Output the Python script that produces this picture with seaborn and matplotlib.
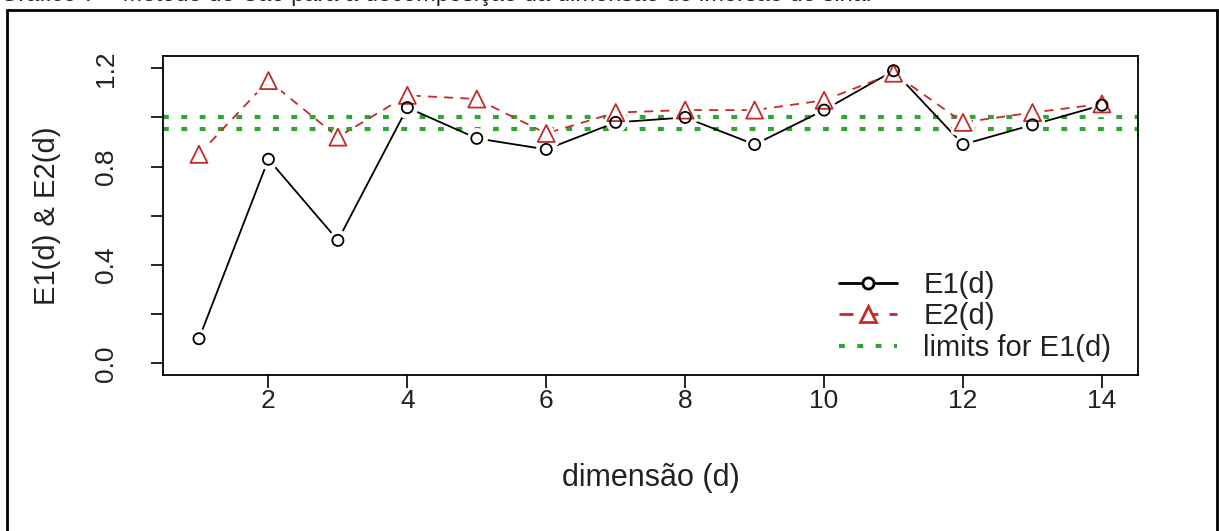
import numpy as np
import matplotlib
matplotlib.use("Agg")
import matplotlib.pyplot as plt
from matplotlib.patches import Rectangle
from matplotlib.lines import Line2D
import seaborn as sns

# dados do método de Cao
dims = [1, 2, 3, 4, 5, 6, 7, 8, 9, 10, 11, 12, 13, 14]
e1 = [0.10, 0.83, 0.50, 1.04, 0.915, 0.87, 0.98, 1.00, 0.89, 1.03, 1.19, 0.89, 0.97, 1.05]
e2 = [0.85, 1.15, 0.92, 1.09, 1.075, 0.935, 1.02, 1.03, 1.03, 1.07, 1.18, 0.98, 1.02, 1.055]
limites = [0.955, 1.0]

x_ticks = [2, 4, 6, 8, 10, 12, 14]
y_ticks = [0.0, 0.2, 0.4, 0.6, 0.8, 1.0, 1.2]
y_labels = ["0.0", "", "0.4", "", "0.8", "", "1.2"]

sns.set_style("ticks")
plt.rcParams["font.family"] = ["Liberation Sans", "DejaVu Sans"]
plt.rcParams["text.color"] = "#222222"

fig = plt.figure(figsize=(12.19, 5.31), dpi=100)
ax = fig.add_axes([0.1336, 0.2936, 0.8, 0.6])

verde = "#33a333"
vermelho = "#c42a2a"
estilo_tracejado = (0, (5, 4))

for lim in limites:
    ax.axhline(lim, color=verde, lw=3, linestyle=(0, (1.4, 3)), zorder=1)

# linhas (tipo "b" do R: segmentos com folga em volta dos pontos)
sns.lineplot(x=dims, y=e1, ax=ax, color="black", lw=1.3, zorder=2)
sns.lineplot(x=dims, y=e2, ax=ax, color=vermelho, lw=1.3, linestyle=estilo_tracejado, zorder=2)

# halo branco em volta dos marcadores
sns.scatterplot(x=dims, y=e1, ax=ax, marker="o", s=64, color="white",
                edgecolor="white", linewidth=7, zorder=3)
sns.scatterplot(x=dims, y=e2, ax=ax, marker="^", s=150, color="white",
                edgecolor="white", linewidth=6, zorder=3)

# marcadores
sns.scatterplot(x=dims, y=e2, ax=ax, marker="^", s=150, facecolor="none",
                edgecolor=vermelho, linewidth=1.3, zorder=4)
sns.scatterplot(x=dims, y=e1, ax=ax, marker="o", s=64, facecolor="none",
                edgecolor="black", linewidth=1.3, zorder=5)

ax.set_xlim(0.48, 14.52)
ax.set_ylim(-0.048, 1.248)
ax.set_xticks(x_ticks)
ax.set_xticklabels([str(t) for t in x_ticks], fontsize=19, color="#222222")
ax.set_yticks(y_ticks)
ax.set_yticklabels(y_labels, rotation=90, va="center", fontsize=19, color="#222222")
ax.tick_params(length=9, width=1.2, color="black")
ax.tick_params(axis="x", pad=1)
ax.tick_params(axis="y", pad=23)
for s in ax.spines.values():
    s.set_color("black")
    s.set_linewidth(1.3)

ax.set_xlabel("dimensão (d)", fontsize=22, labelpad=36, color="#222222")
ax.set_ylabel("E1(d) & E2(d)", fontsize=21, labelpad=24, color="#222222")

itens = [
    Line2D([], [], color="black", lw=2, marker="o", markersize=8,
           markerfacecolor="white", markeredgewidth=2),
    Line2D([], [], color=vermelho, lw=2, linestyle=estilo_tracejado, marker="^",
           markersize=11, markerfacecolor="white", markeredgewidth=2),
    Line2D([], [], color=verde, lw=3, linestyle=(0, (1.4, 3))),
]
ax.legend(itens, ["E1(d)", "E2(d)", "limits for E1(d)"],
          loc="upper left", bbox_to_anchor=(0.666, 0.41), frameon=False,
          fontsize=21, handlelength=2.0, labelspacing=0.12, numpoints=1,
          handletextpad=0.9)

# moldura externa e título cortado no topo
fig.patches.append(Rectangle((7 / 1219, -0.05), 1210 / 1219, 1.05 - 10 / 531,
                             transform=fig.transFigure, fill=False,
                             edgecolor="black", lw=2))
fig.text(0.0, 1 - 1 / 531,
         "Gráfico 7 – Método de Cao para a decomposição da dimensão de imersão do sinal",
         fontsize=17, va="baseline", ha="left")

fig.savefig("out.png", dpi=100)
